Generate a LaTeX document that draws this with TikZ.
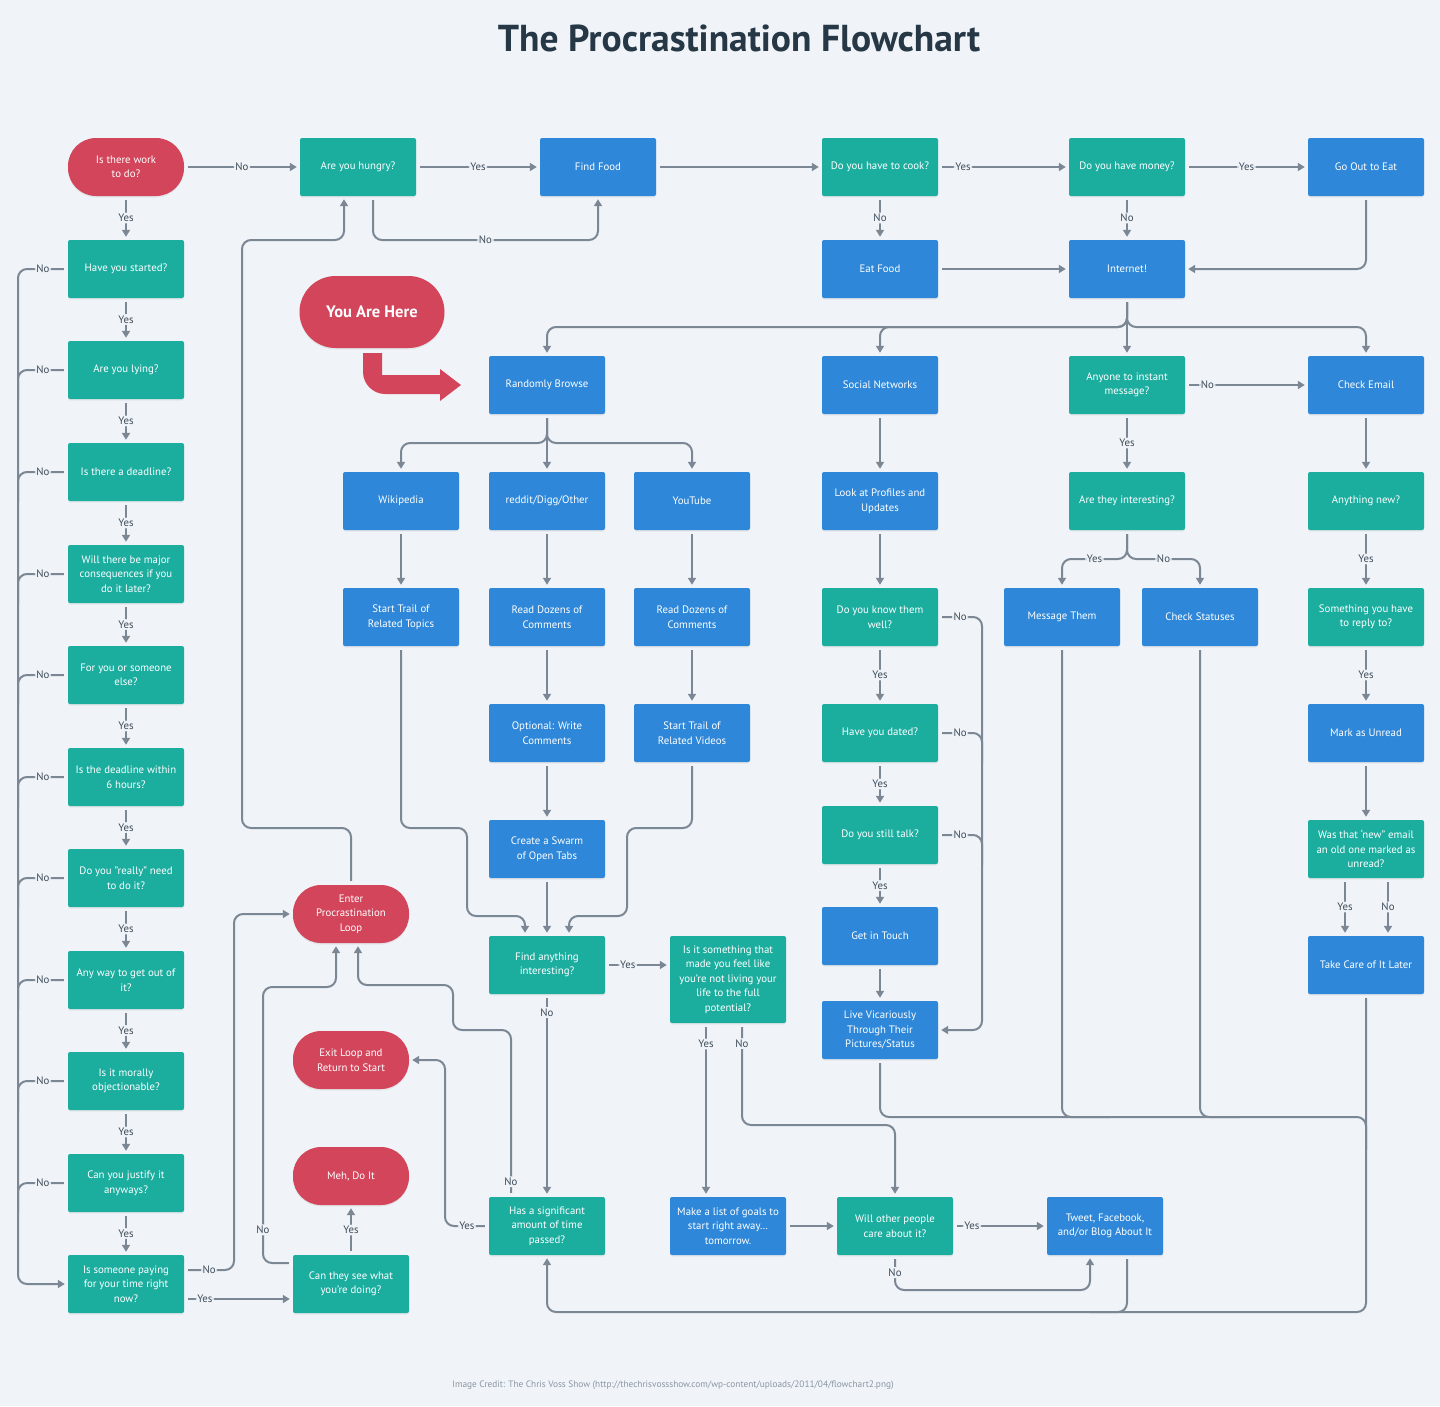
\documentclass[tikz,border=0pt]{standalone}
\usepackage{fontspec}
\setmainfont{PT Sans}
\usetikzlibrary{arrows.meta,shadows}
\definecolor{bgcol}{HTML}{F0F4F8}
\definecolor{tealq}{HTML}{1BAE9F}
\definecolor{blueact}{HTML}{2E87D8}
\definecolor{redterm}{HTML}{D3455B}
\definecolor{wirecol}{HTML}{7B8794}
\definecolor{inkdark}{HTML}{263746}
\definecolor{lbltext}{HTML}{3E4C59}
\definecolor{credcol}{HTML}{8A96A3}

\begin{document}
\begin{tikzpicture}[x=1pt, y=-1pt,
    box/.style={minimum width=116pt, minimum height=58pt, inner sep=2pt, align=center,
        text=white, font=\fontsize{10.8}{14.5}\selectfont, rounded corners=2pt,
        drop shadow={shadow xshift=0pt, shadow yshift=-1.5pt, opacity=0.12}},
    qbox/.style={box, fill=tealq},
    actbox/.style={box, fill=blueact},
    pill/.style={box, fill=redterm, rounded corners=28pt},
    wire/.style={draw=wirecol, line width=2pt, rounded corners=9pt, shorten <=4pt},
    flow/.style={wire, -{Triangle[length=7pt,width=8pt]}, shorten >=3pt},
    lbl/.style={fill=bgcol, text=lbltext, font=\fontsize{10.8}{12}\selectfont, inner sep=1.5pt}
]
    \useasboundingbox[fill=bgcol] (0,0) rectangle (1440,1406);

    % Title and credit
    \node[text=inkdark, font=\fontsize{37.5}{44}\selectfont\bfseries] (title) at (739,38) {The Procrastination Flowchart};
    \node[text=credcol, font=\fontsize{9.3}{11}\selectfont] (credit) at (673,1385)
        {Image Credit: The Chris Voss Show (http://thechrisvossshow.com/wp-content/uploads/2011/04/flowchart2.png)};

    % --- Left column: the work questions ---
    \node[pill] (work) at (126,167) {Is there work\\to do?};
    \node[qbox] (started) at (126,269) {Have you started?};
    \node[qbox] (lying) at (126,370) {Are you lying?};
    \node[qbox] (deadline) at (126,472) {Is there a deadline?};
    \node[qbox] (conseq) at (126,574) {Will there be major\\consequences if you\\do it later?};
    \node[qbox] (whom) at (126,675) {For you or someone\\else?};
    \node[qbox] (sixhrs) at (126,777) {Is the deadline within\\6 hours?};
    \node[qbox] (really) at (126,878) {Do you "really" need\\to do it?};
    \node[qbox] (getout) at (126,980) {Any way to get out of\\it?};
    \node[qbox] (moral) at (126,1081) {Is it morally\\objectionable?};
    \node[qbox] (justify) at (126,1183) {Can you justify it\\anyways?};
    \node[qbox] (paying) at (126,1284) {Is someone paying\\for your time right\\now?};

    % --- Food row ---
    \node[qbox] (hungry) at (358,167) {Are you hungry?};
    \node[actbox] (findfood) at (598,167) {Find Food};
    \node[qbox] (cook) at (880,167) {Do you have to cook?};
    \node[qbox] (money) at (1127,167) {Do you have money?};
    \node[actbox] (goout) at (1366,167) {Go Out to Eat};
    \node[actbox] (eatfood) at (880,269) {Eat Food};
    \node[actbox] (internet) at (1127,269) {Internet!};

    % --- You are here ---
    \node[pill, minimum width=145pt, minimum height=72pt, rounded corners=36pt,
        font=\fontsize{16.5}{18}\selectfont\bfseries] (here) at (372,312) {You Are Here};
    \fill[redterm] (363,353) -- (382,353) -- (382,375) -- (440,375) -- (440,369) -- (461,385)
        -- (440,401) -- (440,394) -- (385,394) .. controls (373,394) and (363,384) .. (363,372) -- cycle;

    % --- Internet branches ---
    \node[actbox] (browse) at (547,385) {Randomly Browse};
    \node[actbox] (social) at (880,385) {Social Networks};
    \node[qbox] (anyone) at (1127,385) {Anyone to instant\\message?};
    \node[actbox] (email) at (1366,385) {Check Email};

    \node[actbox] (wiki) at (401,501) {Wikipedia};
    \node[actbox] (reddit) at (547,501) {reddit/Digg/Other};
    \node[actbox] (youtube) at (692,501) {YouTube};
    \node[actbox] (profiles) at (880,501) {Look at Profiles and\\Updates};
    \node[qbox] (interesting) at (1127,501) {Are they interesting?};
    \node[qbox] (anynew) at (1366,501) {Anything new?};

    \node[actbox] (trailtopics) at (401,617) {Start Trail of\\Related Topics};
    \node[actbox] (readA) at (547,617) {Read Dozens of\\Comments};
    \node[actbox] (readB) at (692,617) {Read Dozens of\\Comments};
    \node[qbox] (knowwell) at (880,617) {Do you know them\\well?};
    \node[actbox] (msgthem) at (1062,617) {Message Them};
    \node[actbox] (statuses) at (1200,617) {Check Statuses};
    \node[qbox] (reply) at (1366,617) {Something you have\\to reply to?};

    \node[actbox] (optwrite) at (547,733) {Optional: Write\\Comments};
    \node[actbox] (trailvideos) at (692,733) {Start Trail of\\Related Videos};
    \node[qbox] (dated) at (880,733) {Have you dated?};
    \node[actbox] (unread) at (1366,733) {Mark as Unread};

    \node[actbox] (swarm) at (547,849) {Create a Swarm\\of Open Tabs};
    \node[qbox] (stilltalk) at (880,835) {Do you still talk?};
    \node[qbox] (wasnew) at (1366,849) {Was that ‘new” email\\an old one marked as\\unread?};
    \node[actbox] (gettouch) at (880,936) {Get in Touch};

    \node[qbox] (findany) at (547,965) {Find anything\\interesting?};
    \node[qbox, minimum height=87pt] (living) at (728,979.5) {Is it something that\\made you feel like\\you're not living your\\life to the full\\potential?};
    \node[actbox] (takecare) at (1366,965) {Take Care of It Later};
    \node[actbox] (vicarious) at (880,1030) {Live Vicariously\\Through Their\\Pictures/Status};

    % --- Loop ---
    \node[pill] (enterloop) at (351,914) {Enter\\Procrastination\\Loop};
    \node[pill] (exitloop) at (351,1060) {Exit Loop and\\Return to Start};
    \node[pill] (meh) at (351,1176) {Meh, Do It};
    \node[qbox] (cansee) at (351,1284) {Can they see what\\you're doing?};

    \node[qbox] (timepassed) at (547,1226) {Has a significant\\amount of time\\passed?};
    \node[actbox] (goals) at (728,1226) {Make a list of goals to\\start right away…\\tomorrow.};
    \node[qbox] (othercare) at (895,1226) {Will other people\\care about it?};
    \node[actbox] (tweet) at (1105,1226) {Tweet, Facebook,\\and/or Blog About It};

    % --- Connectors: left column ---
    \foreach \a/\b in {work/started, started/lying, lying/deadline, deadline/conseq, conseq/whom,
        whom/sixhrs, sixhrs/really, really/getout, getout/moral, moral/justify, justify/paying} {
        \draw[flow] (\a) -- node[lbl]{Yes} (\b);
    }
    \draw[flow] (started.west) -- node[lbl]{No} (18,269) -- (18,1284) -- (paying.west);
    \foreach \q/\y in {lying/370, deadline/472, conseq/574, whom/675, sixhrs/777,
        really/878, getout/980, moral/1081, justify/1183} {
        \draw[wire] (\q.west) -- node[lbl]{No} (18,\y) -- (18,\y+30);
    }
    \draw[flow] ([yshift=14pt]paying.east) -- node[lbl]{No} (234,1270) -- (234,914) -- (enterloop.west);
    \draw[flow] ([yshift=-15pt]paying.east) -- node[lbl, pos=0.19]{Yes} ([yshift=-15pt]cansee.west);

    % --- Connectors: loop ---
    \draw[flow] (cansee.north) -- node[lbl]{Yes} (meh.south);
    \draw[flow] ([yshift=21pt]cansee.west) -- (263,1263) -- node[lbl, pos=0.12]{No} (263,987)
        -- (336,987) -- ([xshift=-15pt]enterloop.south);
    \draw[flow] (enterloop.north) -- (351,828) -- (242,828) -- (242,240) -- (344,240)
        -- ([xshift=-14pt]hungry.south);
    \draw[flow] ([xshift=-36pt]timepassed.north) -- node[lbl, pos=0.09]{No} (511,1030) -- (453,1030)
        -- (453,985) -- (358,985) -- ([xshift=7pt]enterloop.south);
    \draw[flow] (timepassed.west) -- node[lbl]{Yes} (445,1226) -- (445,1060) -- (exitloop.east);

    % --- Connectors: food ---
    \draw[flow] (work.east) -- node[lbl]{No} (hungry.west);
    \draw[flow] (hungry.east) -- node[lbl]{Yes} (findfood.west);
    \draw[flow] ([xshift=15pt]hungry.south) -- (373,240) -- node[lbl]{No} (598,240) -- (findfood.south);
    \draw[flow] (findfood.east) -- (cook.west);
    \draw[flow] (cook.east) -- node[lbl, pos=0.19]{Yes} (money.west);
    \draw[flow] (money.east) -- node[lbl]{Yes} (goout.west);
    \draw[flow] (cook.south) -- node[lbl]{No} (eatfood.north);
    \draw[flow] (money.south) -- node[lbl]{No} (internet.north);
    \draw[flow] (eatfood.east) -- (internet.west);
    \draw[flow] (goout.south) -- (1366,269) -- (internet.east);

    % --- Connectors: internet ---
    \draw[flow] (internet.south) -- (1127,327) -- (547,327) -- (browse.north);
    \draw[flow] (internet.south) -- (1127,327) -- (880,327) -- (social.north);
    \draw[flow] (internet.south) -- (anyone.north);
    \draw[flow] (internet.south) -- (1127,327) -- (1366,327) -- (email.north);

    \draw[flow] (browse.south) -- (547,443) -- (401,443) -- (wiki.north);
    \draw[flow] (browse.south) -- (reddit.north);
    \draw[flow] (browse.south) -- (547,443) -- (692,443) -- (youtube.north);
    \draw[flow] (wiki) -- (trailtopics);
    \draw[flow] (reddit) -- (readA);
    \draw[flow] (readA) -- (optwrite);
    \draw[flow] (optwrite) -- (swarm);
    \draw[flow] (youtube) -- (readB);
    \draw[flow] (readB) -- (trailvideos);
    \draw[flow] (swarm) -- (findany);
    \draw[flow] (trailtopics.south) -- (401,828) -- (467,828) -- (467,916) -- (525,916)
        -- ([xshift=-22pt]findany.north);
    \draw[flow] (trailvideos.south) -- (692,828) -- (627,828) -- (627,916) -- (569,916)
        -- ([xshift=22pt]findany.north);

    % --- Connectors: social ---
    \draw[flow] (social) -- (profiles);
    \draw[flow] (profiles) -- (knowwell);
    \draw[flow] (knowwell) -- node[lbl]{Yes} (dated);
    \draw[flow] (dated) -- node[lbl]{Yes} (stilltalk);
    \draw[flow] (stilltalk) -- node[lbl]{Yes} (gettouch);
    \draw[flow] (gettouch) -- (vicarious);
    \draw[flow] (knowwell.east) -- node[lbl]{No} (982,617) -- (982,1030) -- (vicarious.east);
    \draw[wire] (dated.east) -- node[lbl]{No} (982,733) -- (982,763);
    \draw[wire] (stilltalk.east) -- node[lbl]{No} (982,835) -- (982,865);

    % --- Connectors: instant message ---
    \draw[flow] (anyone.east) -- node[lbl, pos=0.18]{No} (email.west);
    \draw[flow] (anyone) -- node[lbl]{Yes} (interesting);
    \draw[flow] (interesting.south) -- (1127,559) -- node[lbl]{Yes} (1062,559) -- (msgthem.north);
    \draw[flow] (interesting.south) -- (1127,559) -- node[lbl]{No} (1200,559) -- (statuses.north);

    % --- Connectors: email ---
    \draw[flow] (email) -- (anynew);
    \draw[flow] (anynew) -- node[lbl]{Yes} (reply);
    \draw[flow] (reply) -- node[lbl]{Yes} (unread);
    \draw[flow] (unread) -- (wasnew);
    \draw[flow] ([xshift=-21pt]wasnew.south) -- node[lbl]{Yes} ([xshift=-21pt]takecare.north);
    \draw[flow] ([xshift=22pt]wasnew.south) -- node[lbl]{No} ([xshift=22pt]takecare.north);

    % --- Connectors: find anything ---
    \draw[flow] (findany.east) -- node[lbl, pos=0.35]{Yes} (living.west |- findany.east);
    \draw[flow] (findany) -- node[lbl, pos=0.09]{No} (timepassed);
    \draw[flow] ([xshift=-22pt]living.south) -- node[lbl, pos=0.12]{Yes} ([xshift=-22pt]goals.north);
    \draw[flow] ([xshift=14pt]living.south) -- node[lbl, pos=0.2]{No} (742,1125) -- (895,1125)
        -- (othercare.north);
    \draw[flow] (goals) -- (othercare);
    \draw[flow] (othercare.east) -- node[lbl, pos=0.2]{Yes} (tweet.west);
    \draw[flow] (othercare.south) -- node[lbl]{No} (895,1290) -- (1090,1290) -- ([xshift=-15pt]tweet.south);

    % --- Connectors: back to time passed ---
    \draw[wire] (vicarious.south) -- (880,1117) -- (1366,1117) -- (1366,1150);
    \draw[wire] (msgthem.south) -- (1062,1117) -- (1110,1117);
    \draw[wire] (statuses.south) -- (1200,1117) -- (1240,1117);
    \draw[wire] ([xshift=22pt]tweet.south) -- (1127,1312) -- (1090,1312);
    \draw[flow] (takecare.south) -- (1366,1312) -- (547,1312) -- (timepassed.south);
\end{tikzpicture}
\end{document}
